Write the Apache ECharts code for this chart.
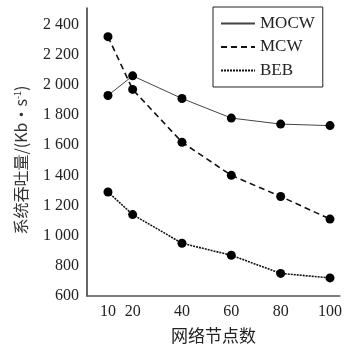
<!DOCTYPE html>
<html>
<head>
<meta charset="utf-8">
<script src="https://cdn.jsdelivr.net/npm/echarts@6/dist/echarts.min.js"></script>
<style>
  html, body { margin: 0; padding: 0; background: #fff; }
  #chart { width: 345px; height: 349px; }
</style>
</head>
<body>
<div id="chart"></div>
<script>
// 网络节点数
const nodes = [10, 20, 40, 60, 80, 100];
// 系统吞吐量 (Kb/s)
const mocw = [1930, 2060, 1910, 1780, 1740, 1730];
const mcw = [2320, 1970, 1620, 1400, 1260, 1110];
const beb = [1290, 1140, 950, 870, 750, 720];
const xTicks = [10, 20, 40, 60, 80, 100];

const font = 'Liberation Serif, Times New Roman, Noto Sans CJK SC, serif';
const pair = (ys) => nodes.map((x, i) => [x, ys[i]]);

let myChart = echarts.init(document.getElementById('chart'));

let option = {
  animation: false,
  textStyle: { fontFamily: font },
  grid: { left: 87, right: 3, top: 8, bottom: 52 },
  legend: {
    orient: 'vertical',
    left: 213,
    top: 7,
    padding: [8, 8, 8, 7],
    itemWidth: 34,
    itemHeight: 14,
    itemGap: 6.5,
    borderColor: '#222',
    borderWidth: 1,
    itemStyle: { opacity: 0 },
    textStyle: { fontFamily: font, fontSize: 17, color: '#222' },
    data: ['MOCW', 'MCW', 'BEB']
  },
  xAxis: {
    type: 'value',
    min: 1.5,
    max: 104,
    name: '网络节点数',
    nameLocation: 'middle',
    nameGap: 31,
    nameTextStyle: { fontFamily: 'Noto Sans CJK SC', fontSize: 17, color: '#222' },
    axisLine: { lineStyle: { color: '#555', width: 1.5 } },
    axisTick: { show: false },
    splitLine: { show: false },
    axisLabel: {
      customValues: xTicks,
      margin: 8,
      fontSize: 16,
      color: '#222',
      fontFamily: font
    }
  },
  yAxis: {
    type: 'value',
    min: 600,
    max: 2510,
    interval: 200,
    name: '系统吞吐量/(Kb·s{sup|-1})',
    nameLocation: 'middle',
    nameGap: 58,
    nameTextStyle: {
      fontFamily: 'Noto Sans CJK SC',
      fontSize: 16,
      color: '#333',
      padding: [0, 16, 0, 0],
      rich: {
        sup: { fontSize: 9, verticalAlign: 'top', padding: [0, 0, 6, 0], color: '#333' }
      }
    },
    axisLine: { show: true, lineStyle: { color: '#333', width: 1.5 } },
    axisTick: { show: false },
    splitLine: { show: false },
    axisLabel: {
      showMaxLabel: false,
      margin: 8,
      fontSize: 16,
      color: '#222',
      fontFamily: font,
      formatter: (v) => v >= 1000 ? Math.floor(v / 1000) + ' ' + String(v % 1000).padStart(3, '0') : String(v)
    }
  },
  series: [
    {
      name: 'MOCW',
      type: 'line',
      data: pair(mocw),
      symbol: 'circle',
      symbolSize: 9,
      itemStyle: { color: '#000' },
      lineStyle: { color: '#444', width: 1, type: 'solid' }
    },
    {
      name: 'MCW',
      type: 'line',
      data: pair(mcw),
      symbol: 'circle',
      symbolSize: 9,
      itemStyle: { color: '#000' },
      lineStyle: { color: '#111', width: 1.6, type: [6, 4] }
    },
    {
      name: 'BEB',
      type: 'line',
      data: pair(beb),
      symbol: 'circle',
      symbolSize: 9,
      itemStyle: { color: '#000' },
      lineStyle: { color: '#111', width: 1.6, type: [2, 1] }
    }
  ]
};
option && myChart.setOption(option);
</script>
</body>
</html>
